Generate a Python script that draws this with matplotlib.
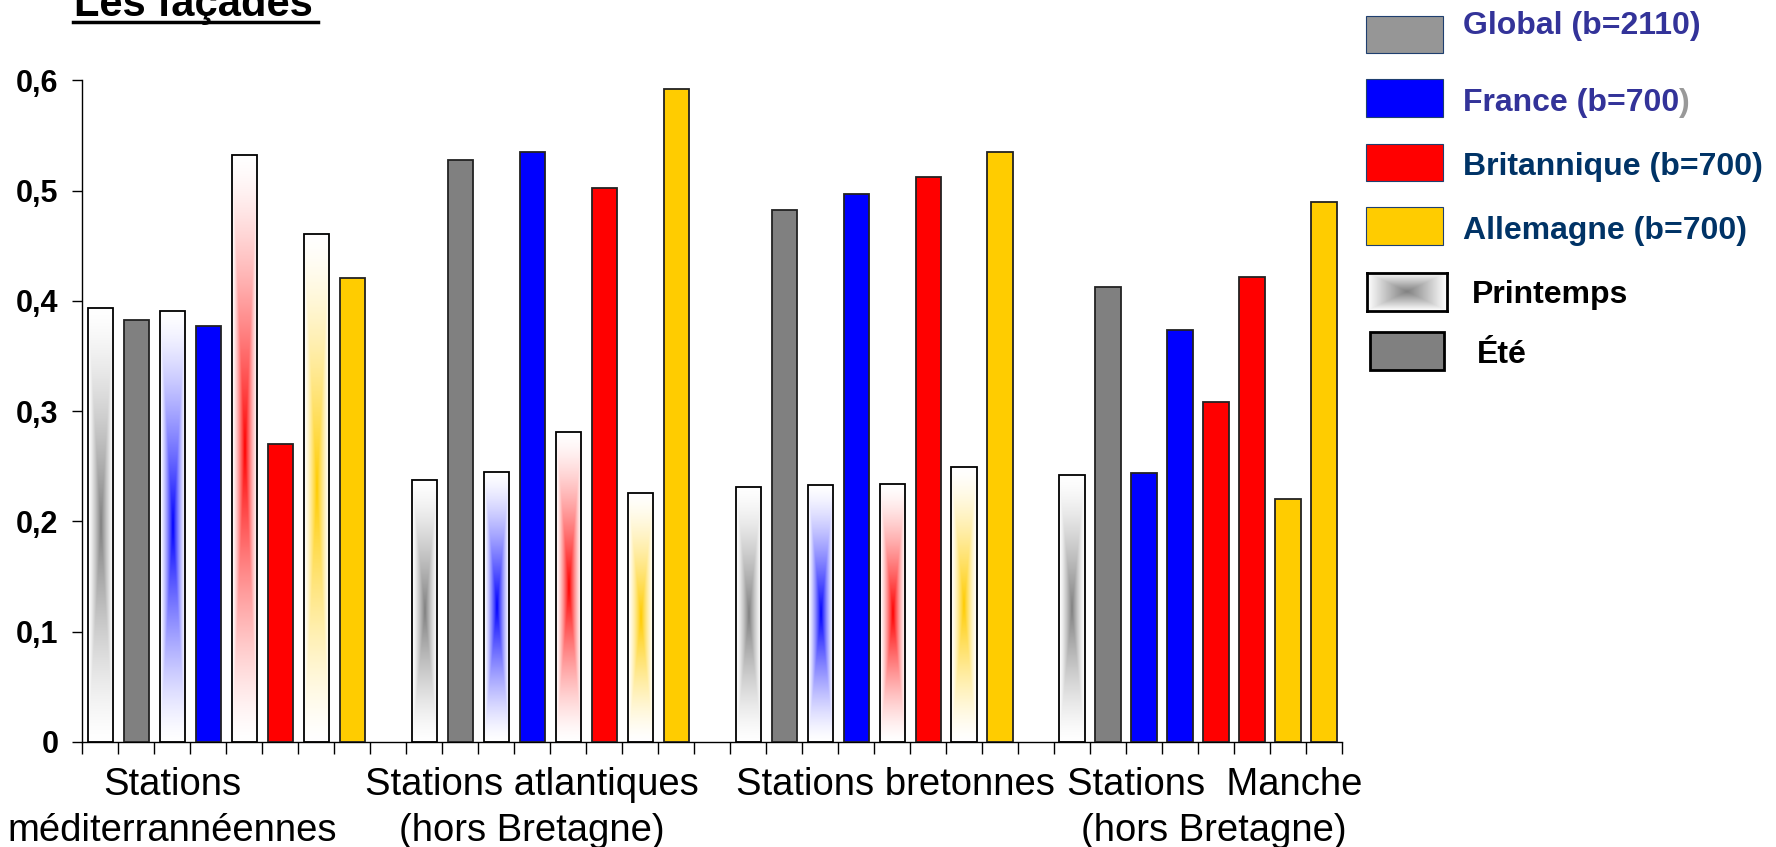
import numpy as np
import matplotlib
matplotlib.use("Agg")
import matplotlib.pyplot as plt
from matplotlib.colors import to_rgb
from matplotlib.patches import Rectangle
from matplotlib.lines import Line2D

plt.rcParams['font.family'] = ['Liberation Sans', 'DejaVu Sans']

W, H = 1776, 847

# groupes de stations (deux lignes de libellé)
group_line1 = ["Stations", "Stations atlantiques", "Stations bretonnes", "Stations  Manche"]
group_line2 = ["méditerrannéennes", "(hors Bretagne)", "", "(hors Bretagne)"]
group_label_x = [2.5, 12.5, 22.6, 31.45]

# printemps / été par panel
printemps_global = [0.394, 0.238, 0.231, 0.242]
ete_global = [0.383, 0.528, 0.482, 0.413]
printemps_france = [0.391, 0.245, 0.233, 0.244]
ete_france = [0.377, 0.535, 0.497, 0.374]
printemps_brit = [0.532, 0.281, 0.234, 0.308]
ete_brit = [0.270, 0.502, 0.512, 0.422]
printemps_allem = [0.461, 0.226, 0.249, 0.220]
ete_allem = [0.421, 0.592, 0.535, 0.490]

# barres de printemps dessinées en dégradé (sinon couleur pleine)
degrade_global = [True, True, True, True]
degrade_france = [True, True, True, False]
degrade_brit = [True, True, True, False]
degrade_allem = [True, True, True, False]

colors = ["#808080", "#0000ff", "#ff0000", "#ffcc00"]

yticks = [0, 0.1, 0.2, 0.3, 0.4, 0.5, 0.6]
ytick_labels = ["0", "0,1", "0,2", "0,3", "0,4", "0,5", "0,6"]

legend_labels = ["Global (b=2110)", "France (b=700)", "Britannique (b=700)", "Allemagne (b=700)"]
legend_face = ["#969696", "#0000ff", "#ff0000", "#ffcc00"]
legend_text_color = ["#333399", "#333399", "#003366", "#003366"]

printemps = [printemps_global, printemps_france, printemps_brit, printemps_allem]
ete = [ete_global, ete_france, ete_brit, ete_allem]
degrade = [degrade_global, degrade_france, degrade_brit, degrade_allem]


def shade(color, nx=60, ny=300, p=1.4):
    # dégradé rectangulaire : couleur au centre, blanc sur les bords
    c = np.array(to_rgb(color))
    X, Y = np.meshgrid(np.linspace(-1, 1, nx), np.linspace(-1, 1, ny))
    t = np.maximum(np.abs(X), np.abs(Y))
    w = ((1 - t) ** p)[..., None]
    return np.ones(3) * (1 - w) + c * w


def fx(px):
    return px / W


def fy(py):
    return 1 - py / H


fig = plt.figure(figsize=(W / 100, H / 100), dpi=100)
ax = fig.add_axes([fx(82.3), fy(741.9), (1342 - 82.3) / W, 661.5 / H])

bw = 0.7
for g in range(4):
    start = 9 * g
    for k in range(4):
        xs = start + 2 * k + 0.5
        xe = start + 2 * k + 1.5
        hs = printemps[k][g]
        he = ete[k][g]
        if degrade[k][g]:
            ax.imshow(shade(colors[k]), extent=[xs - bw / 2, xs + bw / 2, 0, hs],
                      aspect='auto', interpolation='bilinear', zorder=2)
            ax.bar(xs, hs, bw, facecolor='none', edgecolor='black', linewidth=1.3, zorder=3)
        else:
            ax.bar(xs, hs, bw, color=colors[k], edgecolor='#222222', linewidth=1.3, zorder=3)
        ax.bar(xe, he, bw, color=colors[k], edgecolor='#222222', linewidth=1.3, zorder=3)

ax.set_xlim(0, 35)
ax.set_ylim(0, 0.6)
ax.set_xticks(np.arange(0, 36))
ax.set_xticklabels([])
ax.set_yticks(yticks)
ax.set_yticklabels(ytick_labels, fontsize=22, fontweight='bold')
for s in ['top', 'right']:
    ax.spines[s].set_visible(False)
for s in ['left', 'bottom']:
    ax.spines[s].set_linewidth(1.0)
ax.tick_params(axis='y', direction='out', length=7.2, width=1.0, pad=10)
ax.tick_params(axis='x', direction='out', length=8.9, width=1.0)

tr = ax.get_xaxis_transform()
for x, l1, l2 in zip(group_label_x, group_line1, group_line2):
    ax.text(x, -0.0803, l1, transform=tr, ha='center', va='baseline', fontsize=27.5)
    ax.text(x, -0.1494, l2, transform=tr, ha='center', va='baseline', fontsize=27.5)

# titre souligné
fig.text(fx(74), fy(16), "Les façades", fontsize=30, fontweight='bold', va='baseline')
fig.add_artist(Line2D([fx(73), fx(318)], [fy(22.3), fy(22.3)], color='black', linewidth=2.5))

# légende
leg_top = [15.7, 79.3, 143.7, 207.3]
leg_base = [34, 110.7, 175, 239.3]
for top, base, lab, fc, tc in zip(leg_top, leg_base, legend_labels, legend_face, legend_text_color):
    fig.add_artist(Rectangle((fx(1366), fy(top + 37.6)), 77 / W, 37.6 / H,
                             facecolor=fc, edgecolor='#1f3f6f', linewidth=0.8,
                             transform=fig.transFigure))
    if lab.startswith("France"):
        t = fig.text(fx(1463), fy(base), lab[:-1], fontsize=23, fontweight='bold',
                     color=tc, va='baseline')
        fig.canvas.draw()
        bb = t.get_window_extent()
        fig.text(bb.x1 / W, fy(base), ")", fontsize=23, fontweight='bold',
                 color='#999999', va='baseline')
    else:
        fig.text(fx(1463), fy(base), lab, fontsize=23, fontweight='bold',
                 color=tc, va='baseline')

lax = fig.add_axes([fx(1367.3), fy(311.3), 80 / W, 38.3 / H])
lax.imshow(shade("#808080", nx=80, ny=40, p=1.0), aspect='auto', interpolation='bilinear')
lax.set_xticks([])
lax.set_yticks([])
for s in lax.spines.values():
    s.set_linewidth(2)
fig.text(fx(1471.7), fy(303.3), "Printemps", fontsize=23, fontweight='bold', va='baseline')

fig.add_artist(Rectangle((fx(1369.7), fy(370.3)), 74.6 / W, 38 / H,
                         facecolor='#808080', edgecolor='black', linewidth=2,
                         transform=fig.transFigure))
fig.text(fx(1476.7), fy(363.3), "Été", fontsize=23, fontweight='bold', va='baseline')

fig.savefig("out.png", dpi=100)
